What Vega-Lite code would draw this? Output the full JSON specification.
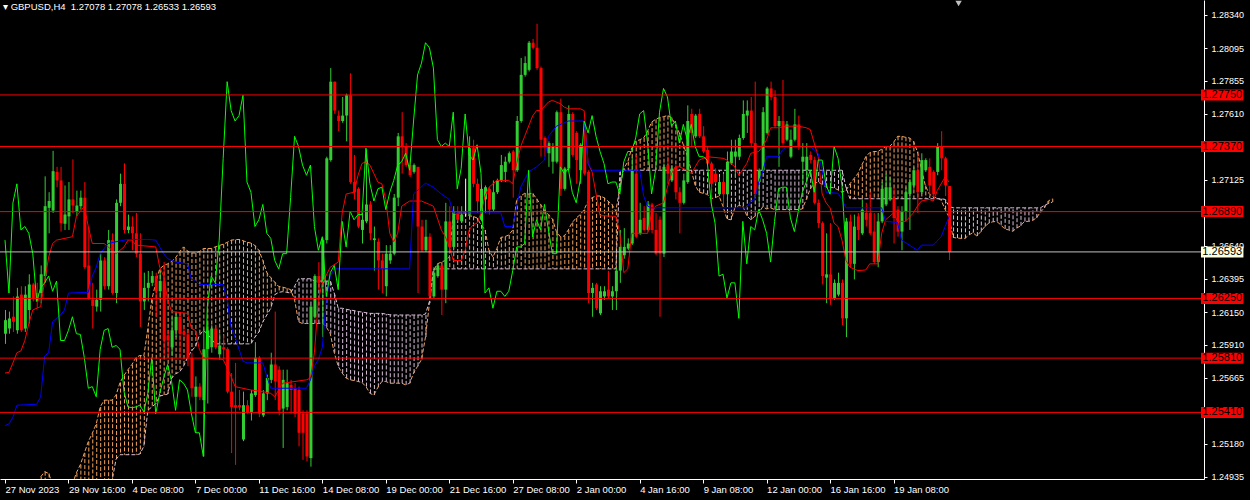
{
"$schema": "https://vega.github.io/schema/vega-lite/v6.json",
"width": 1204, "height": 479,
"autosize": {"type": "none"},
"padding": {"left": 0, "top": 0, "right": 46, "bottom": 21},
"background": "#000000",
"config": {"view": {"stroke": null}, "font": "Liberation Sans", "axis": {"grid": false, "title": null, "domainColor": "#ffffff", "tickColor": "#ffffff", "labelColor": "#ffffff", "labelFont": "Liberation Sans", "labelFontSize": 10, "labelFlush": false, "labelOverlap": false, "zindex": 0}},
"title": {"text": "▾  GBPUSD,H4\u00a0 1.27078 1.27078 1.26533 1.26593", "anchor": "start", "frame": "group", "offset": 0, "dx": 3, "dy": 21, "fontSize": 9.5, "fontWeight": "normal", "font": "Liberation Sans", "color": "#ffffff", "baseline": "bottom"},
"datasets": {
"bars": [
{"i":0,"o":1.2599,"h":1.26165,"l":1.25915,"c":1.2609},
{"i":1,"o":1.26028,"h":1.26153,"l":1.2599,"c":1.26103},
{"i":2,"o":1.26115,"h":1.26265,"l":1.26003,"c":1.26078},
{"i":3,"o":1.26015,"h":1.26328,"l":1.2599,"c":1.26265},
{"i":4,"o":1.26278,"h":1.2634,"l":1.26003,"c":1.26015},
{"i":5,"o":1.26028,"h":1.2634,"l":1.26003,"c":1.26278},
{"i":6,"o":1.26165,"h":1.26428,"l":1.26065,"c":1.26353},
{"i":7,"o":1.26353,"h":1.26365,"l":1.26228,"c":1.26253},
{"i":8,"o":1.2629,"h":1.26365,"l":1.26178,"c":1.26228},
{"i":9,"o":1.2629,"h":1.26493,"l":1.26215,"c":1.26428},
{"i":10,"o":1.26415,"h":1.2715,"l":1.26365,"c":1.2693},
{"i":11,"o":1.26918,"h":1.27033,"l":1.2673,"c":1.26968},
{"i":12,"o":1.26898,"h":1.27338,"l":1.2688,"c":1.27188},
{"i":13,"o":1.27183,"h":1.2722,"l":1.2707,"c":1.2712},
{"i":14,"o":1.2712,"h":1.2722,"l":1.26743,"c":1.26805},
{"i":15,"o":1.268,"h":1.27083,"l":1.26755,"c":1.26868},
{"i":16,"o":1.26855,"h":1.27108,"l":1.26755,"c":1.2698},
{"i":17,"o":1.2698,"h":1.27275,"l":1.2688,"c":1.26935},
{"i":18,"o":1.26893,"h":1.27045,"l":1.26855,"c":1.26935},
{"i":19,"o":1.2693,"h":1.27045,"l":1.26905,"c":1.26993},
{"i":20,"o":1.26993,"h":1.27108,"l":1.26468,"c":1.2648},
{"i":21,"o":1.26493,"h":1.2678,"l":1.2624,"c":1.26253},
{"i":22,"o":1.2624,"h":1.26365,"l":1.26028,"c":1.26195},
{"i":23,"o":1.2619,"h":1.26315,"l":1.26153,"c":1.2624},
{"i":24,"o":1.2624,"h":1.2658,"l":1.26153,"c":1.2653},
{"i":25,"o":1.2653,"h":1.26555,"l":1.26315,"c":1.2634},
{"i":26,"o":1.2634,"h":1.26755,"l":1.26315,"c":1.2668},
{"i":27,"o":1.2668,"h":1.2673,"l":1.26278,"c":1.2629},
{"i":28,"o":1.2629,"h":1.2698,"l":1.26215,"c":1.26955},
{"i":29,"o":1.26955,"h":1.2717,"l":1.2693,"c":1.27095},
{"i":30,"o":1.27095,"h":1.27245,"l":1.2673,"c":1.26755},
{"i":31,"o":1.26755,"h":1.26868,"l":1.2673,"c":1.2678},
{"i":32,"o":1.2678,"h":1.26855,"l":1.26605,"c":1.2673},
{"i":33,"o":1.2673,"h":1.2688,"l":1.26555,"c":1.2658},
{"i":34,"o":1.2658,"h":1.2673,"l":1.2604,"c":1.26228},
{"i":35,"o":1.26228,"h":1.2644,"l":1.26165,"c":1.26328},
{"i":36,"o":1.26328,"h":1.26453,"l":1.26228,"c":1.26365},
{"i":37,"o":1.26365,"h":1.26453,"l":1.2634,"c":1.26415},
{"i":38,"o":1.26415,"h":1.2644,"l":1.26115,"c":1.26303},
{"i":39,"o":1.26303,"h":1.26453,"l":1.2624,"c":1.26378},
{"i":40,"o":1.26378,"h":1.26518,"l":1.25825,"c":1.2594},
{"i":41,"o":1.25978,"h":1.26015,"l":1.25825,"c":1.2594},
{"i":42,"o":1.2589,"h":1.26115,"l":1.25825,"c":1.26015},
{"i":43,"o":1.26015,"h":1.2614,"l":1.25965,"c":1.26115},
{"i":44,"o":1.26115,"h":1.2614,"l":1.25825,"c":1.2599},
{"i":45,"o":1.26003,"h":1.2604,"l":1.25965,"c":1.25985},
{"i":46,"o":1.25985,"h":1.26015,"l":1.2575,"c":1.25813},
{"i":47,"o":1.25813,"h":1.2585,"l":1.25525,"c":1.25588},
{"i":48,"o":1.25525,"h":1.25675,"l":1.2526,"c":1.256},
{"i":49,"o":1.256,"h":1.25625,"l":1.255,"c":1.25525},
{"i":50,"o":1.255,"h":1.26028,"l":1.25085,"c":1.25875},
{"i":51,"o":1.25878,"h":1.26065,"l":1.25475,"c":1.26015},
{"i":52,"o":1.2589,"h":1.26053,"l":1.2585,"c":1.26028},
{"i":53,"o":1.26028,"h":1.26053,"l":1.25875,"c":1.2589},
{"i":54,"o":1.25838,"h":1.2599,"l":1.258,"c":1.25903},
{"i":55,"o":1.2589,"h":1.25978,"l":1.258,"c":1.25875},
{"i":56,"o":1.25878,"h":1.2589,"l":1.2555,"c":1.25563},
{"i":57,"o":1.25563,"h":1.257,"l":1.2511,"c":1.2545},
{"i":58,"o":1.25463,"h":1.25775,"l":1.25023,"c":1.25445},
{"i":59,"o":1.25463,"h":1.25575,"l":1.25425,"c":1.2545},
{"i":60,"o":1.2521,"h":1.25563,"l":1.25198,"c":1.25463},
{"i":61,"o":1.25463,"h":1.255,"l":1.254,"c":1.25413},
{"i":62,"o":1.25413,"h":1.25575,"l":1.2535,"c":1.2555},
{"i":63,"o":1.25538,"h":1.25928,"l":1.25525,"c":1.25813},
{"i":64,"o":1.25813,"h":1.25825,"l":1.25375,"c":1.254},
{"i":65,"o":1.25388,"h":1.25575,"l":1.25375,"c":1.2555},
{"i":66,"o":1.2555,"h":1.25688,"l":1.255,"c":1.25663},
{"i":67,"o":1.2565,"h":1.2585,"l":1.25625,"c":1.25763},
{"i":68,"o":1.25763,"h":1.26153,"l":1.255,"c":1.25638},
{"i":69,"o":1.25725,"h":1.2575,"l":1.25388,"c":1.25425},
{"i":70,"o":1.25438,"h":1.25725,"l":1.25148,"c":1.2565},
{"i":71,"o":1.2545,"h":1.25725,"l":1.25425,"c":1.25625},
{"i":72,"o":1.25613,"h":1.2565,"l":1.254,"c":1.25575},
{"i":73,"o":1.25588,"h":1.25625,"l":1.25375,"c":1.254},
{"i":74,"o":1.25575,"h":1.256,"l":1.2516,"c":1.2526},
{"i":75,"o":1.254,"h":1.25425,"l":1.2506,"c":1.2526},
{"i":76,"o":1.254,"h":1.25425,"l":1.25048,"c":1.25085},
{"i":77,"o":1.25073,"h":1.26203,"l":1.2501,"c":1.2619},
{"i":78,"o":1.26115,"h":1.26428,"l":1.26103,"c":1.26415},
{"i":79,"o":1.26415,"h":1.26518,"l":1.26315,"c":1.26365},
{"i":80,"o":1.26365,"h":1.26693,"l":1.25965,"c":1.2668},
{"i":81,"o":1.2668,"h":1.27295,"l":1.26655,"c":1.27283},
{"i":82,"o":1.2727,"h":1.27948,"l":1.27258,"c":1.27848},
{"i":83,"o":1.27848,"h":1.27848,"l":1.2761,"c":1.27635},
{"i":84,"o":1.27598,"h":1.27635,"l":1.27483,"c":1.27558},
{"i":85,"o":1.27558,"h":1.27735,"l":1.27545,"c":1.27598},
{"i":86,"o":1.27598,"h":1.2776,"l":1.27408,"c":1.27748},
{"i":87,"o":1.27748,"h":1.2791,"l":1.27095,"c":1.27108},
{"i":88,"o":1.27108,"h":1.27308,"l":1.2698,"c":1.27033},
{"i":89,"o":1.27058,"h":1.2707,"l":1.26768,"c":1.2678},
{"i":90,"o":1.26755,"h":1.2688,"l":1.26655,"c":1.2683},
{"i":91,"o":1.26818,"h":1.27345,"l":1.26805,"c":1.26943},
{"i":92,"o":1.26943,"h":1.26968,"l":1.2668,"c":1.2673},
{"i":93,"o":1.2668,"h":1.2678,"l":1.26455,"c":1.26693},
{"i":94,"o":1.26668,"h":1.26693,"l":1.26315,"c":1.2653},
{"i":95,"o":1.2653,"h":1.2658,"l":1.2629,"c":1.26468},
{"i":96,"o":1.2634,"h":1.26643,"l":1.26265,"c":1.2658},
{"i":97,"o":1.2653,"h":1.26643,"l":1.26505,"c":1.2658},
{"i":98,"o":1.2658,"h":1.2702,"l":1.26568,"c":1.26993},
{"i":99,"o":1.26993,"h":1.2747,"l":1.2693,"c":1.27445},
{"i":100,"o":1.27445,"h":1.27623,"l":1.2717,"c":1.2737},
{"i":101,"o":1.2737,"h":1.27395,"l":1.2722,"c":1.27233},
{"i":102,"o":1.27233,"h":1.2727,"l":1.27145,"c":1.27158},
{"i":103,"o":1.27183,"h":1.27245,"l":1.2717,"c":1.27233},
{"i":104,"o":1.2722,"h":1.2722,"l":1.2629,"c":1.2678},
{"i":105,"o":1.2678,"h":1.2683,"l":1.26593,"c":1.26605},
{"i":106,"o":1.26605,"h":1.2683,"l":1.26593,"c":1.26705},
{"i":107,"o":1.26705,"h":1.2673,"l":1.26253,"c":1.26265},
{"i":108,"o":1.26265,"h":1.2648,"l":1.26253,"c":1.2644},
{"i":109,"o":1.26415,"h":1.26505,"l":1.26403,"c":1.26493},
{"i":110,"o":1.26493,"h":1.26505,"l":1.26128,"c":1.26315},
{"i":111,"o":1.26315,"h":1.26955,"l":1.26215,"c":1.26818},
{"i":112,"o":1.26818,"h":1.2693,"l":1.2658,"c":1.2663},
{"i":113,"o":1.2663,"h":1.2693,"l":1.26618,"c":1.26893},
{"i":114,"o":1.2688,"h":1.2693,"l":1.26818,"c":1.2683},
{"i":115,"o":1.26818,"h":1.2693,"l":1.26805,"c":1.26868},
{"i":116,"o":1.26868,"h":1.27133,"l":1.26855,"c":1.26868},
{"i":117,"o":1.26868,"h":1.27445,"l":1.26855,"c":1.27358},
{"i":118,"o":1.27358,"h":1.2742,"l":1.2707,"c":1.27095},
{"i":119,"o":1.27095,"h":1.27133,"l":1.2688,"c":1.26968},
{"i":120,"o":1.2683,"h":1.27083,"l":1.26818,"c":1.27058},
{"i":121,"o":1.2698,"h":1.27083,"l":1.2688,"c":1.2707},
{"i":122,"o":1.27058,"h":1.2707,"l":1.26868,"c":1.26905},
{"i":123,"o":1.26905,"h":1.2712,"l":1.26893,"c":1.27033},
{"i":124,"o":1.27033,"h":1.27133,"l":1.2702,"c":1.2712},
{"i":125,"o":1.2712,"h":1.27308,"l":1.27108,"c":1.27233},
{"i":126,"o":1.27183,"h":1.27295,"l":1.27108,"c":1.27258},
{"i":127,"o":1.27258,"h":1.27333,"l":1.27245,"c":1.2732},
{"i":128,"o":1.27333,"h":1.27345,"l":1.26993,"c":1.27195},
{"i":129,"o":1.27195,"h":1.27595,"l":1.27183,"c":1.27558},
{"i":130,"o":1.27558,"h":1.28023,"l":1.27545,"c":1.27898},
{"i":131,"o":1.27898,"h":1.28035,"l":1.27885,"c":1.27985},
{"i":132,"o":1.27935,"h":1.28148,"l":1.27923,"c":1.28135},
{"i":133,"o":1.28135,"h":1.28163,"l":1.28085,"c":1.28098},
{"i":134,"o":1.28098,"h":1.28275,"l":1.27935,"c":1.27948},
{"i":135,"o":1.27948,"h":1.2796,"l":1.27295,"c":1.2742},
{"i":136,"o":1.27433,"h":1.27445,"l":1.27295,"c":1.2737},
{"i":137,"o":1.2732,"h":1.27408,"l":1.2722,"c":1.27395},
{"i":138,"o":1.27258,"h":1.27395,"l":1.2717,"c":1.2737},
{"i":139,"o":1.27258,"h":1.27635,"l":1.27245,"c":1.27623},
{"i":140,"o":1.27623,"h":1.27723,"l":1.27005,"c":1.27058},
{"i":141,"o":1.27058,"h":1.2722,"l":1.27045,"c":1.27208},
{"i":142,"o":1.27208,"h":1.27673,"l":1.27195,"c":1.2761},
{"i":143,"o":1.2761,"h":1.27623,"l":1.27295,"c":1.27308},
{"i":144,"o":1.2747,"h":1.27483,"l":1.27095,"c":1.2727},
{"i":145,"o":1.27195,"h":1.27395,"l":1.27095,"c":1.27383},
{"i":146,"o":1.2737,"h":1.27495,"l":1.27158,"c":1.2717},
{"i":147,"o":1.27183,"h":1.27195,"l":1.26215,"c":1.2629},
{"i":148,"o":1.2629,"h":1.26365,"l":1.26115,"c":1.26328},
{"i":149,"o":1.26353,"h":1.26365,"l":1.26165,"c":1.26178},
{"i":150,"o":1.2614,"h":1.2634,"l":1.26128,"c":1.26303},
{"i":151,"o":1.26265,"h":1.2634,"l":1.2624,"c":1.26303},
{"i":152,"o":1.26315,"h":1.26453,"l":1.26253,"c":1.26265},
{"i":153,"o":1.26265,"h":1.2634,"l":1.26165,"c":1.26303},
{"i":154,"o":1.26303,"h":1.2648,"l":1.26165,"c":1.26455},
{"i":155,"o":1.26455,"h":1.26755,"l":1.26365,"c":1.2663},
{"i":156,"o":1.26568,"h":1.26768,"l":1.26543,"c":1.2663},
{"i":157,"o":1.26618,"h":1.26693,"l":1.26605,"c":1.26655},
{"i":158,"o":1.26655,"h":1.27295,"l":1.26643,"c":1.27195},
{"i":159,"o":1.2717,"h":1.27308,"l":1.26693,"c":1.26705},
{"i":160,"o":1.2673,"h":1.26955,"l":1.26718,"c":1.2683},
{"i":161,"o":1.26843,"h":1.2693,"l":1.26743,"c":1.26755},
{"i":162,"o":1.26755,"h":1.26968,"l":1.26743,"c":1.26943},
{"i":163,"o":1.26943,"h":1.26955,"l":1.2673,"c":1.26755},
{"i":164,"o":1.26755,"h":1.2688,"l":1.26568,"c":1.2658},
{"i":165,"o":1.2683,"h":1.26855,"l":1.26115,"c":1.2658},
{"i":166,"o":1.2658,"h":1.27245,"l":1.26555,"c":1.2722},
{"i":167,"o":1.27233,"h":1.27295,"l":1.27095,"c":1.2717},
{"i":168,"o":1.2712,"h":1.27233,"l":1.27108,"c":1.27208},
{"i":169,"o":1.2722,"h":1.27233,"l":1.2698,"c":1.27033},
{"i":170,"o":1.27033,"h":1.2707,"l":1.2673,"c":1.26955},
{"i":171,"o":1.26955,"h":1.2717,"l":1.26943,"c":1.2712},
{"i":172,"o":1.27108,"h":1.27673,"l":1.27095,"c":1.27558},
{"i":173,"o":1.2761,"h":1.27648,"l":1.2737,"c":1.2747},
{"i":174,"o":1.27445,"h":1.2761,"l":1.27433,"c":1.27598},
{"i":175,"o":1.2761,"h":1.27648,"l":1.27433,"c":1.27445},
{"i":176,"o":1.27445,"h":1.2752,"l":1.2732,"c":1.27333},
{"i":177,"o":1.27345,"h":1.2737,"l":1.27233,"c":1.27245},
{"i":178,"o":1.27245,"h":1.27258,"l":1.2693,"c":1.27095},
{"i":179,"o":1.2717,"h":1.27208,"l":1.27095,"c":1.27108},
{"i":180,"o":1.27018,"h":1.27145,"l":1.27005,"c":1.27108},
{"i":181,"o":1.27108,"h":1.2717,"l":1.2693,"c":1.27018},
{"i":182,"o":1.27018,"h":1.27333,"l":1.2693,"c":1.27258},
{"i":183,"o":1.27245,"h":1.2742,"l":1.27233,"c":1.27333},
{"i":184,"o":1.27295,"h":1.2742,"l":1.27145,"c":1.27333},
{"i":185,"o":1.27295,"h":1.27458,"l":1.2727,"c":1.27433},
{"i":186,"o":1.27433,"h":1.2771,"l":1.2742,"c":1.2761},
{"i":187,"o":1.27598,"h":1.2771,"l":1.2747,"c":1.27635},
{"i":188,"o":1.27635,"h":1.27735,"l":1.2737,"c":1.27395},
{"i":189,"o":1.27395,"h":1.27848,"l":1.27018,"c":1.2702},
{"i":190,"o":1.27108,"h":1.27208,"l":1.26955,"c":1.27195},
{"i":191,"o":1.27195,"h":1.2766,"l":1.27183,"c":1.27623},
{"i":192,"o":1.2747,"h":1.2781,"l":1.27458,"c":1.27798},
{"i":193,"o":1.27798,"h":1.27848,"l":1.2771,"c":1.27735},
{"i":194,"o":1.27735,"h":1.27785,"l":1.27508,"c":1.2752},
{"i":195,"o":1.2752,"h":1.27595,"l":1.2722,"c":1.27558},
{"i":196,"o":1.27558,"h":1.2786,"l":1.27383,"c":1.27395},
{"i":197,"o":1.2742,"h":1.27558,"l":1.27408,"c":1.27533},
{"i":198,"o":1.27295,"h":1.27495,"l":1.27283,"c":1.2742},
{"i":199,"o":1.2742,"h":1.27648,"l":1.27408,"c":1.27533},
{"i":200,"o":1.27533,"h":1.27598,"l":1.27345,"c":1.2737},
{"i":201,"o":1.27258,"h":1.27395,"l":1.27095,"c":1.27295},
{"i":202,"o":1.27195,"h":1.27395,"l":1.27133,"c":1.27295},
{"i":203,"o":1.27308,"h":1.27333,"l":1.27245,"c":1.2727},
{"i":204,"o":1.2727,"h":1.27295,"l":1.26943,"c":1.26955},
{"i":205,"o":1.26955,"h":1.2698,"l":1.26768,"c":1.26805},
{"i":206,"o":1.26805,"h":1.26818,"l":1.26353,"c":1.26415},
{"i":207,"o":1.26403,"h":1.2673,"l":1.26215,"c":1.26428},
{"i":208,"o":1.26428,"h":1.26805,"l":1.26203,"c":1.26253},
{"i":209,"o":1.26253,"h":1.2639,"l":1.2624,"c":1.26365},
{"i":210,"o":1.26278,"h":1.2644,"l":1.26265,"c":1.26365},
{"i":211,"o":1.26365,"h":1.2639,"l":1.26053,"c":1.26103},
{"i":212,"o":1.26103,"h":1.26843,"l":1.25965,"c":1.26818},
{"i":213,"o":1.26818,"h":1.26868,"l":1.2648,"c":1.26505},
{"i":214,"o":1.26505,"h":1.26868,"l":1.2639,"c":1.2678},
{"i":215,"o":1.26855,"h":1.2688,"l":1.2668,"c":1.26755},
{"i":216,"o":1.2673,"h":1.2698,"l":1.26718,"c":1.26905},
{"i":217,"o":1.2688,"h":1.26955,"l":1.2678,"c":1.2683},
{"i":218,"o":1.2688,"h":1.27033,"l":1.26718,"c":1.2673},
{"i":219,"o":1.26743,"h":1.2688,"l":1.26505,"c":1.26518},
{"i":220,"o":1.26518,"h":1.2688,"l":1.2648,"c":1.26818},
{"i":221,"o":1.26818,"h":1.27108,"l":1.26805,"c":1.27058},
{"i":222,"o":1.26943,"h":1.2717,"l":1.2693,"c":1.2707},
{"i":223,"o":1.2698,"h":1.27145,"l":1.26968,"c":1.2707},
{"i":224,"o":1.26993,"h":1.2707,"l":1.26655,"c":1.26843},
{"i":225,"o":1.26905,"h":1.2693,"l":1.26705,"c":1.26743},
{"i":226,"o":1.26743,"h":1.2693,"l":1.26605,"c":1.26893},
{"i":227,"o":1.26893,"h":1.2707,"l":1.26818,"c":1.27033},
{"i":228,"o":1.2702,"h":1.27133,"l":1.26755,"c":1.27108},
{"i":229,"o":1.27083,"h":1.2722,"l":1.27058,"c":1.27195},
{"i":230,"o":1.27195,"h":1.2732,"l":1.2688,"c":1.27033},
{"i":231,"o":1.27033,"h":1.2732,"l":1.2702,"c":1.2727},
{"i":232,"o":1.27195,"h":1.27283,"l":1.27183,"c":1.2727},
{"i":233,"o":1.2722,"h":1.27283,"l":1.27005,"c":1.27083},
{"i":234,"o":1.27183,"h":1.27195,"l":1.27005,"c":1.27018},
{"i":235,"o":1.27183,"h":1.27395,"l":1.27158,"c":1.2737},
{"i":236,"o":1.2737,"h":1.27483,"l":1.27195,"c":1.27283},
{"i":237,"o":1.27283,"h":1.27295,"l":1.27005,"c":1.27083},
{"i":238,"o":1.27078,"h":1.27078,"l":1.26533,"c":1.26593}
],
"cloud": [
{"i":9,"a":1.24935,"b":1.2486},{"i":10,"a":1.24973,"b":1.2486},{"i":11,"a":1.2496,"b":1.2486},
{"i":12,"a":1.2488,"b":1.2486},{"i":13,"a":1.2488,"b":1.2486},{"i":14,"a":1.2488,"b":1.2486},{"i":15,"a":1.2488,"b":1.2486},{"i":16,"a":1.2488,"b":1.2486},{"i":17,"a":1.2488,"b":1.2486},
{"i":18,"a":1.24965,"b":1.2486},{"i":19,"a":1.25025,"b":1.2486},{"i":20,"a":1.2511,"b":1.2486},{"i":21,"a":1.25195,"b":1.2486},{"i":22,"a":1.25255,"b":1.2486},{"i":23,"a":1.25325,"b":1.2486},{"i":24,"a":1.2545,"b":1.2486},{"i":25,"a":1.255,"b":1.2486},{"i":26,"a":1.255,"b":1.2486},
{"i":27,"a":1.255,"b":1.2491},{"i":28,"a":1.25538,"b":1.25065},{"i":29,"a":1.2563,"b":1.25098},{"i":30,"a":1.25683,"b":1.25098},{"i":31,"a":1.25725,"b":1.25098},{"i":32,"a":1.25763,"b":1.25098},{"i":33,"a":1.25813,"b":1.25098},{"i":34,"a":1.2583,"b":1.25103},{"i":35,"a":1.25825,"b":1.2516},
{"i":36,"a":1.26028,"b":1.25425},{"i":37,"a":1.2624,"b":1.2545},{"i":38,"a":1.26365,"b":1.25475},{"i":39,"a":1.26468,"b":1.2553},{"i":40,"a":1.26493,"b":1.25538},{"i":41,"a":1.26505,"b":1.25545},{"i":42,"a":1.26523,"b":1.25663},{"i":43,"a":1.2655,"b":1.25695},{"i":44,"a":1.26593,"b":1.25708},{"i":45,"a":1.2663,"b":1.2575},{"i":46,"a":1.266,"b":1.25813},{"i":47,"a":1.26585,"b":1.25863},{"i":48,"a":1.26585,"b":1.25895},{"i":49,"a":1.26595,"b":1.25978},{"i":50,"a":1.26618,"b":1.26015},
{"i":51,"a":1.26618,"b":1.2599},{"i":52,"a":1.26618,"b":1.25953},{"i":53,"a":1.2663,"b":1.25915},{"i":54,"a":1.2664,"b":1.25915},{"i":55,"a":1.2665,"b":1.25915},{"i":56,"a":1.26663,"b":1.25915},{"i":57,"a":1.2668,"b":1.25915},{"i":58,"a":1.26683,"b":1.25915},{"i":59,"a":1.26685,"b":1.25915},{"i":60,"a":1.26675,"b":1.25915},{"i":61,"a":1.26665,"b":1.25915},{"i":62,"a":1.26658,"b":1.25915},{"i":63,"a":1.2664,"b":1.25965},{"i":64,"a":1.26605,"b":1.26003},{"i":65,"a":1.2653,"b":1.26078},{"i":66,"a":1.2644,"b":1.26128},{"i":67,"a":1.26403,"b":1.26178},{"i":68,"a":1.2637,"b":1.26278},{"i":69,"a":1.26338,"b":1.26295},{"i":70,"a":1.26333,"b":1.263},{"i":71,"a":1.26325,"b":1.26295},{"i":72,"a":1.26315,"b":1.2629},
{"i":73,"a":1.2624,"b":1.2634},{"i":74,"a":1.26078,"b":1.26395},{"i":75,"a":1.26065,"b":1.26395},{"i":76,"a":1.26065,"b":1.26395},{"i":77,"a":1.26065,"b":1.26395},{"i":78,"a":1.26065,"b":1.26378},{"i":79,"a":1.26065,"b":1.26378},{"i":80,"a":1.2607,"b":1.26378},{"i":81,"a":1.2604,"b":1.26378},{"i":82,"a":1.2599,"b":1.26378},{"i":83,"a":1.2585,"b":1.2629},{"i":84,"a":1.2575,"b":1.26178},{"i":85,"a":1.257,"b":1.26178},{"i":86,"a":1.25663,"b":1.2617},{"i":87,"a":1.2565,"b":1.26165},{"i":88,"a":1.25645,"b":1.2616},{"i":89,"a":1.25638,"b":1.26153},{"i":90,"a":1.2563,"b":1.2615},{"i":91,"a":1.256,"b":1.26145},{"i":92,"a":1.2555,"b":1.2614},{"i":93,"a":1.25538,"b":1.2614},{"i":94,"a":1.25595,"b":1.2614},{"i":95,"a":1.25638,"b":1.2614},{"i":96,"a":1.25638,"b":1.26135},{"i":97,"a":1.25625,"b":1.2613},{"i":98,"a":1.25625,"b":1.26128},{"i":99,"a":1.25625,"b":1.26128},{"i":100,"a":1.25625,"b":1.26128},{"i":101,"a":1.25613,"b":1.26128},{"i":102,"a":1.25625,"b":1.26128},{"i":103,"a":1.257,"b":1.26128},{"i":104,"a":1.2575,"b":1.26128},{"i":105,"a":1.258,"b":1.26128},{"i":106,"a":1.25965,"b":1.26135},{"i":107,"a":1.26215,"b":1.26228},{"i":108,"a":1.26455,"b":1.26465},
{"i":109,"a":1.26505,"b":1.26468},{"i":110,"a":1.26518,"b":1.26468},{"i":111,"a":1.2653,"b":1.26468},{"i":112,"a":1.26555,"b":1.26468},{"i":113,"a":1.26855,"b":1.26468},{"i":114,"a":1.2688,"b":1.26468},{"i":115,"a":1.2688,"b":1.26468},{"i":116,"a":1.2688,"b":1.26468},{"i":117,"a":1.2686,"b":1.26468},{"i":118,"a":1.26855,"b":1.26468},{"i":119,"a":1.26843,"b":1.26468},{"i":120,"a":1.26793,"b":1.26468},{"i":121,"a":1.26755,"b":1.26468},{"i":122,"a":1.26605,"b":1.26468},{"i":123,"a":1.26555,"b":1.26468},{"i":124,"a":1.26618,"b":1.26468},{"i":125,"a":1.267,"b":1.26468},{"i":126,"a":1.26705,"b":1.26468},{"i":127,"a":1.26718,"b":1.26468},{"i":128,"a":1.26755,"b":1.26468},{"i":129,"a":1.2698,"b":1.26468},{"i":130,"a":1.27005,"b":1.26468},{"i":131,"a":1.27025,"b":1.26468},{"i":132,"a":1.2702,"b":1.26468},{"i":133,"a":1.27025,"b":1.26468},{"i":134,"a":1.26985,"b":1.26468},{"i":135,"a":1.26943,"b":1.26468},{"i":136,"a":1.269,"b":1.26468},{"i":137,"a":1.26868,"b":1.26468},{"i":138,"a":1.26835,"b":1.26468},{"i":139,"a":1.26743,"b":1.26468},{"i":140,"a":1.26705,"b":1.26468},{"i":141,"a":1.2671,"b":1.26468},{"i":142,"a":1.26755,"b":1.26468},{"i":143,"a":1.2681,"b":1.26468},{"i":144,"a":1.26843,"b":1.26468},{"i":145,"a":1.26868,"b":1.26468},{"i":146,"a":1.26905,"b":1.26468},{"i":147,"a":1.26968,"b":1.26468},{"i":148,"a":1.26993,"b":1.26468},{"i":149,"a":1.27005,"b":1.26468},{"i":150,"a":1.27005,"b":1.26468},{"i":151,"a":1.26993,"b":1.26468},{"i":152,"a":1.26968,"b":1.26468},{"i":153,"a":1.26943,"b":1.26468},{"i":154,"a":1.26893,"b":1.26468},
{"i":155,"a":1.2707,"b":1.27183},{"i":156,"a":1.27208,"b":1.27195},{"i":157,"a":1.27258,"b":1.27195},{"i":158,"a":1.27358,"b":1.27195},{"i":159,"a":1.27408,"b":1.27195},{"i":160,"a":1.2742,"b":1.27195},{"i":161,"a":1.27433,"b":1.27195},{"i":162,"a":1.27483,"b":1.27195},{"i":163,"a":1.2755,"b":1.27195},{"i":164,"a":1.2757,"b":1.27195},{"i":165,"a":1.27583,"b":1.27195},{"i":166,"a":1.2759,"b":1.27195},{"i":167,"a":1.27598,"b":1.27195},{"i":168,"a":1.27583,"b":1.27195},{"i":169,"a":1.27533,"b":1.27195},{"i":170,"a":1.2747,"b":1.27195},{"i":171,"a":1.27383,"b":1.27195},{"i":172,"a":1.273,"b":1.27195},{"i":173,"a":1.27195,"b":1.27195},{"i":174,"a":1.27083,"b":1.27195},{"i":175,"a":1.27033,"b":1.27195},{"i":176,"a":1.27025,"b":1.27195},{"i":177,"a":1.27018,"b":1.27195},{"i":178,"a":1.26985,"b":1.27195},{"i":179,"a":1.26993,"b":1.27195},{"i":180,"a":1.27005,"b":1.27195},{"i":181,"a":1.2693,"b":1.27195},{"i":182,"a":1.26835,"b":1.27195},{"i":183,"a":1.2683,"b":1.27195},{"i":184,"a":1.26918,"b":1.27195},{"i":185,"a":1.26935,"b":1.27195},{"i":186,"a":1.2693,"b":1.27195},{"i":187,"a":1.2686,"b":1.27195},{"i":188,"a":1.2683,"b":1.27195},{"i":189,"a":1.26855,"b":1.27195},{"i":190,"a":1.2688,"b":1.27195},{"i":191,"a":1.26925,"b":1.27195},{"i":192,"a":1.2691,"b":1.27195},{"i":193,"a":1.26918,"b":1.27195},{"i":194,"a":1.26905,"b":1.27195},{"i":195,"a":1.26905,"b":1.27195},{"i":196,"a":1.26905,"b":1.27195},{"i":197,"a":1.26905,"b":1.27195},{"i":198,"a":1.26905,"b":1.27195},{"i":199,"a":1.26905,"b":1.27195},{"i":200,"a":1.26905,"b":1.27195},{"i":201,"a":1.2691,"b":1.27195},{"i":202,"a":1.2698,"b":1.27195},{"i":203,"a":1.27058,"b":1.27195},{"i":204,"a":1.271,"b":1.27195},{"i":205,"a":1.27108,"b":1.27195},{"i":206,"a":1.2709,"b":1.27195},{"i":207,"a":1.2707,"b":1.27195},{"i":208,"a":1.2707,"b":1.27195},{"i":209,"a":1.27065,"b":1.27195},{"i":210,"a":1.2705,"b":1.27195},{"i":211,"a":1.27033,"b":1.27195},{"i":212,"a":1.27045,"b":1.2707},
{"i":213,"a":1.27095,"b":1.26985},{"i":214,"a":1.27133,"b":1.26985},{"i":215,"a":1.2717,"b":1.26985},{"i":216,"a":1.27233,"b":1.26985},{"i":217,"a":1.27295,"b":1.26985},{"i":218,"a":1.27325,"b":1.26985},{"i":219,"a":1.27333,"b":1.26985},{"i":220,"a":1.27333,"b":1.26985},{"i":221,"a":1.2735,"b":1.26985},{"i":222,"a":1.2737,"b":1.26985},{"i":223,"a":1.2737,"b":1.26985},{"i":224,"a":1.274,"b":1.26985},{"i":225,"a":1.27445,"b":1.26985},{"i":226,"a":1.27445,"b":1.26985},{"i":227,"a":1.27438,"b":1.26985},{"i":228,"a":1.27433,"b":1.26985},{"i":229,"a":1.27408,"b":1.26985},{"i":230,"a":1.27333,"b":1.26985},{"i":231,"a":1.27208,"b":1.26985},{"i":232,"a":1.27083,"b":1.26985},{"i":233,"a":1.2702,"b":1.26985},{"i":234,"a":1.26998,"b":1.26985},{"i":235,"a":1.2699,"b":1.26985},{"i":236,"a":1.26975,"b":1.26985},
{"i":237,"a":1.26905,"b":1.2698},{"i":238,"a":1.2685,"b":1.2693},{"i":239,"a":1.267,"b":1.26918},{"i":240,"a":1.26695,"b":1.26918},{"i":241,"a":1.26693,"b":1.26918},{"i":242,"a":1.26693,"b":1.26918},{"i":243,"a":1.26718,"b":1.26918},{"i":244,"a":1.26735,"b":1.26918},{"i":245,"a":1.2671,"b":1.26918},{"i":246,"a":1.26743,"b":1.26918},{"i":247,"a":1.2678,"b":1.26918},{"i":248,"a":1.26805,"b":1.26918},{"i":249,"a":1.26815,"b":1.26918},{"i":250,"a":1.26818,"b":1.26918},{"i":251,"a":1.26793,"b":1.26918},{"i":252,"a":1.26763,"b":1.26918},{"i":253,"a":1.26755,"b":1.26918},{"i":254,"a":1.26745,"b":1.26918},{"i":255,"a":1.26768,"b":1.26918},{"i":256,"a":1.26785,"b":1.26918},{"i":257,"a":1.26818,"b":1.26918},{"i":258,"a":1.26818,"b":1.26918},{"i":259,"a":1.26825,"b":1.26918},{"i":260,"a":1.26843,"b":1.26918},{"i":261,"a":1.26885,"b":1.26918},{"i":262,"a":1.26918,"b":1.26935},{"i":263,"a":1.26968,"b":1.2695},{"i":264,"a":1.26985,"b":1.2696}
],
"tenkan": [
{"i":0,"v":1.257},{"i":1,"v":1.25705},{"i":2,"v":1.25775},{"i":3,"v":1.2585},{"i":4,"v":1.25863},{"i":5,"v":1.2594},{"i":6,"v":1.26065},{"i":7,"v":1.26165},{"i":9,"v":1.2619},{"i":10,"v":1.26378},{"i":11,"v":1.26555},{"i":12,"v":1.26655},{"i":13,"v":1.2668},{"i":17,"v":1.26705},{"i":18,"v":1.26855},{"i":20,"v":1.2693},{"i":21,"v":1.2678},{"i":22,"v":1.26655},{"i":25,"v":1.26655},{"i":27,"v":1.26605},{"i":28,"v":1.2658},{"i":30,"v":1.2663},{"i":31,"v":1.2668},{"i":32,"v":1.2668},{"i":33,"v":1.26643},{"i":38,"v":1.2663},{"i":39,"v":1.2648},{"i":40,"v":1.26415},{"i":41,"v":1.2624},{"i":42,"v":1.26153},{"i":46,"v":1.2614},{"i":47,"v":1.26028},{"i":48,"v":1.26015},{"i":49,"v":1.25875},{"i":50,"v":1.25813},{"i":55,"v":1.258},{"i":57,"v":1.25675},{"i":58,"v":1.256},{"i":62,"v":1.25575},{"i":65,"v":1.25563},{"i":67,"v":1.2555},{"i":68,"v":1.25525},{"i":70,"v":1.25625},{"i":76,"v":1.2565},{"i":77,"v":1.25663},{"i":78,"v":1.2585},{"i":79,"v":1.2624},{"i":80,"v":1.26365},{"i":82,"v":1.2648},{"i":84,"v":1.26518},{"i":85,"v":1.2688},{"i":86,"v":1.2702},{"i":88,"v":1.27033},{"i":89,"v":1.27158},{"i":90,"v":1.27245},{"i":91,"v":1.27258},{"i":92,"v":1.27233},{"i":93,"v":1.2717},{"i":94,"v":1.27108},{"i":95,"v":1.27095},{"i":96,"v":1.2698},{"i":97,"v":1.2673},{"i":98,"v":1.26668},{"i":99,"v":1.2673},{"i":100,"v":1.2693},{"i":102,"v":1.26968},{"i":105,"v":1.26968},{"i":107,"v":1.26943},{"i":108,"v":1.2693},{"i":110,"v":1.26755},{"i":111,"v":1.26705},{"i":112,"v":1.2663},{"i":113,"v":1.2653},{"i":115,"v":1.2653},{"i":116,"v":1.26605},{"i":117,"v":1.26755},{"i":118,"v":1.26793},{"i":119,"v":1.26805},{"i":120,"v":1.2688},{"i":121,"v":1.27005},{"i":122,"v":1.2707},{"i":124,"v":1.2712},{"i":127,"v":1.2712},{"i":128,"v":1.27095},{"i":129,"v":1.27245},{"i":130,"v":1.2737},{"i":131,"v":1.27445},{"i":133,"v":1.27595},{"i":134,"v":1.27635},{"i":135,"v":1.27635},{"i":137,"v":1.27698},{"i":138,"v":1.2771},{"i":140,"v":1.27685},{"i":141,"v":1.2766},{"i":142,"v":1.27648},{"i":145,"v":1.27648},{"i":146,"v":1.27635},{"i":147,"v":1.27245},{"i":148,"v":1.27183},{"i":150,"v":1.2686},{"i":154,"v":1.26855},{"i":155,"v":1.2673},{"i":156,"v":1.2644},{"i":157,"v":1.26468},{"i":158,"v":1.2673},{"i":162,"v":1.2673},{"i":163,"v":1.2688},{"i":164,"v":1.2693},{"i":166,"v":1.26955},{"i":167,"v":1.2707},{"i":168,"v":1.2717},{"i":169,"v":1.2722},{"i":170,"v":1.2722},{"i":172,"v":1.27195},{"i":173,"v":1.2717},{"i":174,"v":1.2722},{"i":175,"v":1.2727},{"i":177,"v":1.27295},{"i":181,"v":1.27283},{"i":182,"v":1.2727},{"i":183,"v":1.27245},{"i":184,"v":1.2722},{"i":185,"v":1.27158},{"i":187,"v":1.27245},{"i":188,"v":1.2732},{"i":190,"v":1.27333},{"i":191,"v":1.2737},{"i":192,"v":1.2742},{"i":193,"v":1.27508},{"i":195,"v":1.27508},{"i":197,"v":1.2752},{"i":200,"v":1.2752},{"i":202,"v":1.27508},{"i":203,"v":1.27495},{"i":204,"v":1.27395},{"i":205,"v":1.27295},{"i":206,"v":1.2702},{"i":207,"v":1.26955},{"i":208,"v":1.26918},{"i":209,"v":1.26805},{"i":210,"v":1.2678},{"i":211,"v":1.2668},{"i":212,"v":1.2653},{"i":213,"v":1.2648},{"i":215,"v":1.26455},{"i":217,"v":1.2646},{"i":218,"v":1.26505},{"i":220,"v":1.26505},{"i":221,"v":1.2673},{"i":222,"v":1.2683},{"i":224,"v":1.2688},{"i":225,"v":1.26818},{"i":227,"v":1.26818},{"i":229,"v":1.2688},{"i":230,"v":1.2693},{"i":231,"v":1.26968},{"i":233,"v":1.2698},{"i":234,"v":1.26968},{"i":235,"v":1.27045},{"i":237,"v":1.27145},{"i":238,"v":1.27108}
],
"kijun": [
{"i":0,"v":1.25313},{"i":1,"v":1.25325},{"i":2,"v":1.25375},{"i":3,"v":1.25463},{"i":8,"v":1.2547},{"i":9,"v":1.25525},{"i":10,"v":1.25825},{"i":11,"v":1.2585},{"i":12,"v":1.26078},{"i":13,"v":1.26103},{"i":14,"v":1.26128},{"i":15,"v":1.26165},{"i":16,"v":1.2629},{"i":21,"v":1.26295},{"i":22,"v":1.26415},{"i":23,"v":1.2648},{"i":24,"v":1.2658},{"i":25,"v":1.26618},{"i":26,"v":1.26655},{"i":28,"v":1.26668},{"i":31,"v":1.26685},{"i":36,"v":1.26685},{"i":38,"v":1.2668},{"i":39,"v":1.2663},{"i":40,"v":1.2658},{"i":41,"v":1.26543},{"i":43,"v":1.26518},{"i":46,"v":1.26505},{"i":47,"v":1.2639},{"i":48,"v":1.26385},{"i":49,"v":1.26353},{"i":55,"v":1.26353},{"i":56,"v":1.2624},{"i":57,"v":1.2604},{"i":58,"v":1.25965},{"i":59,"v":1.25875},{"i":60,"v":1.25788},{"i":61,"v":1.25775},{"i":65,"v":1.25775},{"i":66,"v":1.25675},{"i":67,"v":1.25588},{"i":76,"v":1.25588},{"i":77,"v":1.2565},{"i":78,"v":1.2575},{"i":79,"v":1.258},{"i":80,"v":1.2589},{"i":81,"v":1.2624},{"i":82,"v":1.26415},{"i":83,"v":1.26468},{"i":102,"v":1.26468},{"i":103,"v":1.2702},{"i":106,"v":1.271},{"i":108,"v":1.2707},{"i":110,"v":1.2702},{"i":112,"v":1.2698},{"i":113,"v":1.2688},{"i":125,"v":1.2688},{"i":126,"v":1.2678},{"i":128,"v":1.2678},{"i":129,"v":1.2693},{"i":130,"v":1.2707},{"i":132,"v":1.27183},{"i":134,"v":1.2722},{"i":136,"v":1.2727},{"i":137,"v":1.27445},{"i":139,"v":1.2752},{"i":141,"v":1.27545},{"i":142,"v":1.27558},{"i":146,"v":1.27558},{"i":147,"v":1.27245},{"i":148,"v":1.27195},{"i":160,"v":1.27195},{"i":161,"v":1.27005},{"i":162,"v":1.2693},{"i":163,"v":1.26918},{"i":187,"v":1.26918},{"i":188,"v":1.26968},{"i":189,"v":1.2698},{"i":190,"v":1.27108},{"i":191,"v":1.27183},{"i":192,"v":1.27295},{"i":195,"v":1.27295},{"i":196,"v":1.27345},{"i":197,"v":1.2737},{"i":203,"v":1.2737},{"i":205,"v":1.2732},{"i":206,"v":1.27195},{"i":207,"v":1.27033},{"i":210,"v":1.27025},{"i":211,"v":1.2698},{"i":212,"v":1.26918},{"i":221,"v":1.26918},{"i":222,"v":1.26818},{"i":225,"v":1.2681},{"i":226,"v":1.2668},{"i":228,"v":1.26643},{"i":230,"v":1.26605},{"i":231,"v":1.26643},{"i":234,"v":1.26643},{"i":236,"v":1.26705},{"i":237,"v":1.2678},{"i":238,"v":1.26855}
],
"chikou": [
{"i":0,"v":1.2668},{"i":1,"v":1.2629},{"i":2,"v":1.26955},{"i":3,"v":1.27095},{"i":4,"v":1.26755},{"i":5,"v":1.2678},{"i":6,"v":1.2673},{"i":7,"v":1.2658},{"i":8,"v":1.26228},{"i":9,"v":1.26328},{"i":10,"v":1.26365},{"i":11,"v":1.26415},{"i":12,"v":1.26303},{"i":13,"v":1.26378},{"i":14,"v":1.2594},{"i":15,"v":1.2594},{"i":16,"v":1.26015},{"i":17,"v":1.26115},{"i":18,"v":1.2599},{"i":19,"v":1.25985},{"i":20,"v":1.25813},{"i":21,"v":1.25588},{"i":22,"v":1.256},{"i":23,"v":1.25525},{"i":24,"v":1.25875},{"i":25,"v":1.26015},{"i":26,"v":1.26028},{"i":27,"v":1.2589},{"i":28,"v":1.25903},{"i":29,"v":1.25875},{"i":30,"v":1.25563},{"i":31,"v":1.2545},{"i":32,"v":1.25445},{"i":33,"v":1.2545},{"i":34,"v":1.25463},{"i":35,"v":1.25413},{"i":36,"v":1.2555},{"i":37,"v":1.25813},{"i":38,"v":1.254},{"i":39,"v":1.2555},{"i":40,"v":1.25663},{"i":41,"v":1.25763},{"i":42,"v":1.25638},{"i":43,"v":1.25425},{"i":44,"v":1.2565},{"i":45,"v":1.25625},{"i":46,"v":1.25575},{"i":47,"v":1.254},{"i":48,"v":1.2526},{"i":49,"v":1.2526},{"i":50,"v":1.25085},{"i":51,"v":1.2619},{"i":52,"v":1.26415},{"i":53,"v":1.26365},{"i":54,"v":1.2668},{"i":55,"v":1.27283},{"i":56,"v":1.27848},{"i":57,"v":1.27635},{"i":58,"v":1.27558},{"i":59,"v":1.27598},{"i":60,"v":1.27748},{"i":61,"v":1.27108},{"i":62,"v":1.27033},{"i":63,"v":1.2678},{"i":64,"v":1.2683},{"i":65,"v":1.26943},{"i":66,"v":1.2673},{"i":67,"v":1.26693},{"i":68,"v":1.2653},{"i":69,"v":1.26468},{"i":70,"v":1.2658},{"i":71,"v":1.2658},{"i":72,"v":1.26993},{"i":73,"v":1.27445},{"i":74,"v":1.2737},{"i":75,"v":1.27233},{"i":76,"v":1.27158},{"i":77,"v":1.27233},{"i":78,"v":1.2678},{"i":79,"v":1.26605},{"i":80,"v":1.26705},{"i":81,"v":1.26265},{"i":82,"v":1.2644},{"i":83,"v":1.26493},{"i":84,"v":1.26315},{"i":85,"v":1.26818},{"i":86,"v":1.2663},{"i":87,"v":1.26893},{"i":88,"v":1.2683},{"i":89,"v":1.26868},{"i":90,"v":1.26868},{"i":91,"v":1.27358},{"i":92,"v":1.27095},{"i":93,"v":1.26968},{"i":94,"v":1.27058},{"i":95,"v":1.2707},{"i":96,"v":1.26905},{"i":97,"v":1.27033},{"i":98,"v":1.2712},{"i":99,"v":1.27233},{"i":100,"v":1.27258},{"i":101,"v":1.2732},{"i":102,"v":1.27195},{"i":103,"v":1.27558},{"i":104,"v":1.27898},{"i":105,"v":1.27985},{"i":106,"v":1.28135},{"i":107,"v":1.28098},{"i":108,"v":1.27948},{"i":109,"v":1.2742},{"i":110,"v":1.2737},{"i":111,"v":1.27395},{"i":112,"v":1.2737},{"i":113,"v":1.27623},{"i":114,"v":1.27058},{"i":115,"v":1.27208},{"i":116,"v":1.2761},{"i":117,"v":1.27308},{"i":118,"v":1.2727},{"i":119,"v":1.27383},{"i":120,"v":1.2717},{"i":121,"v":1.2629},{"i":122,"v":1.26328},{"i":123,"v":1.26178},{"i":124,"v":1.26303},{"i":125,"v":1.26303},{"i":126,"v":1.26265},{"i":127,"v":1.26303},{"i":128,"v":1.26455},{"i":129,"v":1.2663},{"i":130,"v":1.2663},{"i":131,"v":1.26655},{"i":132,"v":1.27195},{"i":133,"v":1.26705},{"i":134,"v":1.2683},{"i":135,"v":1.26755},{"i":136,"v":1.26943},{"i":137,"v":1.26755},{"i":138,"v":1.2658},{"i":139,"v":1.2658},{"i":140,"v":1.2722},{"i":141,"v":1.2717},{"i":142,"v":1.27208},{"i":143,"v":1.27033},{"i":144,"v":1.26955},{"i":145,"v":1.2712},{"i":146,"v":1.27558},{"i":147,"v":1.2747},{"i":148,"v":1.27598},{"i":149,"v":1.27445},{"i":150,"v":1.27333},{"i":151,"v":1.27245},{"i":152,"v":1.27095},{"i":153,"v":1.27108},{"i":154,"v":1.27108},{"i":155,"v":1.27018},{"i":156,"v":1.27258},{"i":157,"v":1.27333},{"i":158,"v":1.27333},{"i":159,"v":1.27433},{"i":160,"v":1.2761},{"i":161,"v":1.27635},{"i":162,"v":1.27395},{"i":163,"v":1.2702},{"i":164,"v":1.27195},{"i":165,"v":1.27623},{"i":166,"v":1.27798},{"i":167,"v":1.27735},{"i":168,"v":1.2752},{"i":169,"v":1.27558},{"i":170,"v":1.27395},{"i":171,"v":1.27533},{"i":172,"v":1.2742},{"i":173,"v":1.27533},{"i":174,"v":1.2737},{"i":175,"v":1.27295},{"i":176,"v":1.27295},{"i":177,"v":1.2727},{"i":178,"v":1.26955},{"i":179,"v":1.26805},{"i":180,"v":1.26415},{"i":181,"v":1.26428},{"i":182,"v":1.26253},{"i":183,"v":1.26365},{"i":184,"v":1.26365},{"i":185,"v":1.26103},{"i":186,"v":1.26818},{"i":187,"v":1.26505},{"i":188,"v":1.2678},{"i":189,"v":1.26755},{"i":190,"v":1.26905},{"i":191,"v":1.2683},{"i":192,"v":1.2673},{"i":193,"v":1.26518},{"i":194,"v":1.26818},{"i":195,"v":1.27058},{"i":196,"v":1.2707},{"i":197,"v":1.2707},{"i":198,"v":1.26843},{"i":199,"v":1.26743},{"i":200,"v":1.26893},{"i":201,"v":1.27033},{"i":202,"v":1.27108},{"i":203,"v":1.27195},{"i":204,"v":1.27033},{"i":205,"v":1.2727},{"i":206,"v":1.2727},{"i":207,"v":1.27083},{"i":208,"v":1.27018},{"i":209,"v":1.2737},{"i":210,"v":1.27283},{"i":211,"v":1.27083},{"i":212,"v":1.26593}
],
"levels": [
{"p":1.2775,"k":"r"},{"p":1.2737,"k":"r"},{"p":1.2689,"k":"r"},{"p":1.2625,"k":"r"},{"p":1.2581,"k":"r"},{"p":1.2541,"k":"r"},{"p":1.26593,"k":"g"}
]
},
"layer": [
{"data": {"name": "cloud"}, "mark": {"type": "rule", "clip": true, "strokeDash": [4, 2], "strokeWidth": 1, "xOffset": 0.5},
 "encoding": {
  "x": {"field": "i", "type": "quantitative", "title": null, "scale": {"domain": [0, 301], "nice": false, "zero": false},
   "axis": {"orient": "bottom", "values": [0,16,32,48,64,80,96,112,128,144,160,176,192,208,224], "labelExpr": "['27 Nov 2023','29 Nov 16:00','4 Dec 08:00','7 Dec 00:00','11 Dec 16:00','14 Dec 08:00','19 Dec 00:00','21 Dec 16:00','27 Dec 08:00','2 Jan 00:00','4 Jan 16:00','9 Jan 08:00','12 Jan 00:00','16 Jan 16:00','19 Jan 08:00'][round(datum.value/16)]", "title": null, "tickSize": 4, "labelPadding": 1, "labelAlign": "left", "labelBaseline": "top", "labelFontSize": 9.5, "labelOverlap": false, "labelFlush": false, "zindex": 0}},
  "y": {"field": "a", "type": "quantitative", "title": null, "scale": {"domain": [1.24919, 1.2845], "nice": false, "zero": false},
   "axis": {"orient": "right", "values": [1.24935,1.2518,1.25665,1.2591,1.2615,1.26395,1.2664,1.27125,1.2761,1.27855,1.28095,1.2834], "format": ".5f", "title": null, "tickSize": 3, "labelPadding": 4, "labelBaseline": "middle", "labelFontSize": 9, "labelOverlap": false, "labelFlush": false, "zindex": 0}},
  "y2": {"field": "b"},
  "color": {"condition": {"test": "datum.a > datum.b", "value": "#f4a460"}, "value": "#d8bfd8"}
 }},
{"data": {"name": "cloud"}, "mark": {"type": "line", "clip": true, "strokeDash": [4, 2], "strokeWidth": 1, "color": "#f4a460"},
 "encoding": {
  "x": {"field": "i", "type": "quantitative", "title": null},
  "y": {"field": "a", "type": "quantitative", "title": null}
 }},
{"data": {"name": "cloud"}, "mark": {"type": "line", "clip": true, "strokeDash": [4, 2], "strokeWidth": 1, "color": "#d8bfd8"},
 "encoding": {
  "x": {"field": "i", "type": "quantitative", "title": null},
  "y": {"field": "b", "type": "quantitative", "title": null}
 }},
{"data": {"name": "bars"}, "mark": {"type": "rule", "clip": true, "strokeWidth": 1, "xOffset": 0.5},
 "encoding": {
  "x": {"field": "i", "type": "quantitative", "title": null},
  "y": {"field": "h", "type": "quantitative", "title": null},
  "y2": {"field": "l"},
  "color": {"condition": [{"test": "datum.c == datum.o", "value": "#ffffff"}, {"test": "datum.c > datum.o", "value": "#32cd32"}], "value": "#ff0000"}
 }},
{"data": {"name": "bars"}, "mark": {"type": "bar", "clip": true, "width": 3, "xOffset": 0.5},
 "encoding": {
  "x": {"field": "i", "type": "quantitative", "title": null},
  "y": {"field": "o", "type": "quantitative", "title": null},
  "y2": {"field": "c"},
  "color": {"condition": [{"test": "datum.c == datum.o", "value": "#ffffff"}, {"test": "datum.c > datum.o", "value": "#32cd32"}], "value": "#ff0000"}
 }},
{"data": {"name": "tenkan"}, "mark": {"type": "line", "clip": true, "strokeWidth": 1, "color": "#ff0000"},
 "encoding": {
  "x": {"field": "i", "type": "quantitative", "title": null},
  "y": {"field": "v", "type": "quantitative", "title": null}
 }},
{"data": {"name": "kijun"}, "mark": {"type": "line", "clip": true, "strokeWidth": 1, "color": "#0000ff"},
 "encoding": {
  "x": {"field": "i", "type": "quantitative", "title": null},
  "y": {"field": "v", "type": "quantitative", "title": null}
 }},
{"data": {"name": "chikou"}, "mark": {"type": "line", "clip": true, "strokeWidth": 1, "color": "#00ff00"},
 "encoding": {
  "x": {"field": "i", "type": "quantitative", "title": null},
  "y": {"field": "v", "type": "quantitative", "title": null}
 }},
{"data": {"name": "levels"}, "mark": {"type": "rule", "strokeWidth": 1},
 "encoding": {
  "y": {"field": "p", "type": "quantitative", "title": null},
  "color": {"condition": {"test": "datum.k == 'g'", "value": "#c0c0c0"}, "value": "#ff0000"}
 }},
{"data": {"name": "levels"}, "mark": {"type": "rule", "strokeWidth": 11, "clip": false, "strokeCap": "butt", "zindex": 2},
 "encoding": {
  "x": {"datum": 301.5, "type": "quantitative", "title": null},
  "x2": {"datum": 312.2},
  "y": {"field": "p", "type": "quantitative", "title": null},
  "color": {"condition": {"test": "datum.k == 'g'", "value": "#ffffe0"}, "value": "#ff0000"}
 }},
{"data": {"name": "levels"}, "mark": {"type": "text", "clip": false, "align": "left", "baseline": "middle", "color": "#000000", "font": "Liberation Sans", "fontSize": 11, "zindex": 3},
 "encoding": {
  "x": {"datum": 301.85, "type": "quantitative", "title": null},
  "y": {"field": "p", "type": "quantitative", "title": null},
  "text": {"field": "p", "type": "quantitative", "format": ".5f"}
 }},
{"data": {"values": [{}]}, "mark": {"type": "point", "shape": "triangle-down", "filled": true, "size": 40, "color": "#c0c0c0", "opacity": 1, "clip": false},
 "encoding": {
  "x": {"datum": 240.4, "type": "quantitative", "title": null},
  "y": {"datum": 1.28425, "type": "quantitative", "title": null}
 }}
]
}
